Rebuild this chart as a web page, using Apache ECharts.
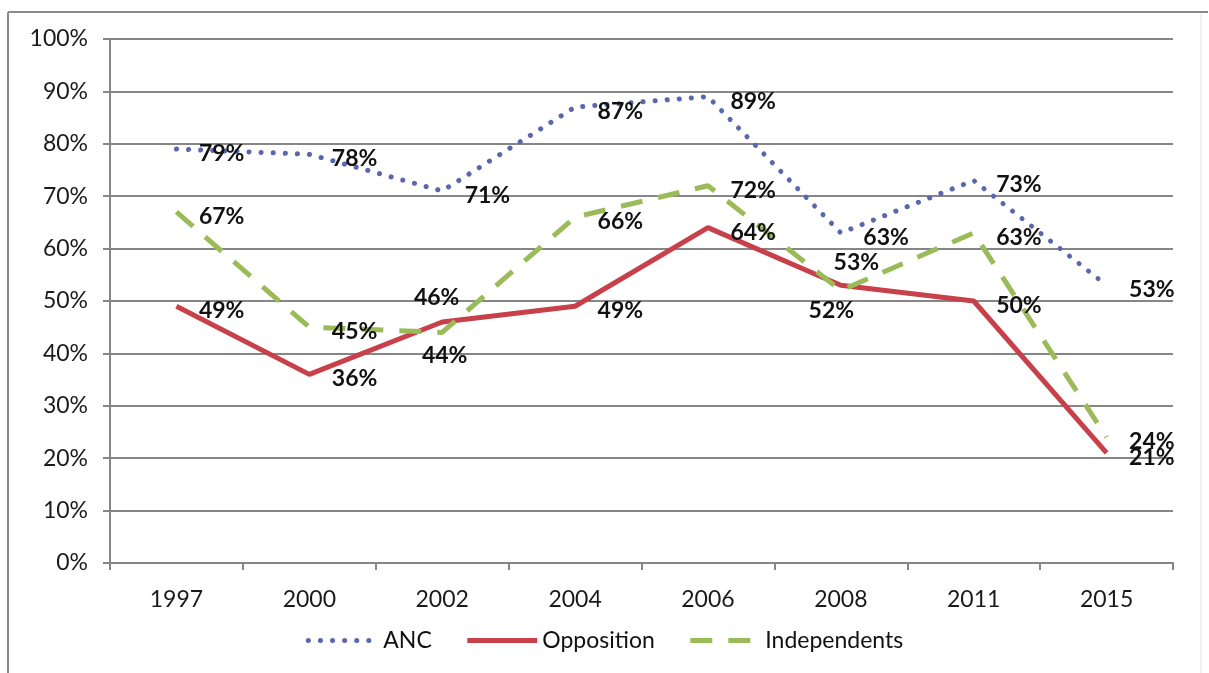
<!DOCTYPE html>
<html>
<head>
<meta charset="utf-8">
<script src="https://cdn.jsdelivr.net/npm/echarts@6/dist/echarts.min.js"></script>
<style>
  html, body { margin: 0; padding: 0; background: #fff; }
  #chart { width: 1209px; height: 673px; }
</style>
</head>
<body>
<div id="chart"></div>
<script>
// Election years on the category axis
const years = ['1997', '2000', '2002', '2004', '2006', '2008', '2011', '2015'];

// Shares in percent
const ancValues = [79, 78, 71, 87, 89, 63, 73, 53];
const oppositionValues = [49, 36, 46, 49, 64, 53, 50, 21];
const independentValues = [67, 45, 44, 66, 72, 52, 63, 24];

// Y axis range and step (percent)
const yMin = 0, yMax = 100, yStep = 10;

const FONT = 'Lato, "Open Sans", sans-serif';

// Label placement relative to the point: by default just right of it,
// a few are moved above or below to keep them clear of the other lines
const labelRight = { position: [23, 5], align: 'left', verticalAlign: 'middle' };
const placements = {
  Opposition: {
    2: { position: [-5, -24], align: 'center', verticalAlign: 'middle' },
    5: { position: [16, -22], align: 'center', verticalAlign: 'middle' }
  },
  Independents: {
    2: { position: [3, 24], align: 'center', verticalAlign: 'middle' },
    5: { position: [-9, 21], align: 'center', verticalAlign: 'middle' }
  }
};

function buildData(name, values) {
  return values.map((v, i) => {
    const p = (placements[name] && placements[name][i]) || null;
    return p ? { value: v, label: Object.assign({}, p) } : v;
  });
}

function lineSeries(name, values, color, lineStyle) {
  return {
    name: name,
    type: 'line',
    data: buildData(name, values),
    symbol: 'circle',
    symbolSize: 1,
    showSymbol: true,
    itemStyle: { color: 'rgba(0,0,0,0)', borderWidth: 0 },
    color: color,
    lineStyle: Object.assign({ color: color }, lineStyle),
    label: Object.assign({
      show: true,
      formatter: p => p.value + '%',
      color: '#111',
      fontWeight: 'bold',
      fontSize: 23,
      fontFamily: FONT
    }, labelRight),
    labelLayout: { hideOverlap: false },
    emphasis: { disabled: true },
    animation: false
  };
}

const chart = echarts.init(document.getElementById('chart'));

chart.setOption({
  backgroundColor: '#fff',
  animation: false,
  graphic: [
    { type: 'line', shape: { x1: 8, y1: 12, x2: 1208, y2: 12 }, style: { stroke: '#8a8a8a', lineWidth: 2 } },
    { type: 'line', shape: { x1: 8, y1: 12, x2: 8, y2: 673 }, style: { stroke: '#8a8a8a', lineWidth: 2 } },
    { type: 'line', shape: { x1: 1201, y1: 14, x2: 1201, y2: 673 }, style: { stroke: '#e2e2e2', lineWidth: 1 } }
  ],
  grid: { left: 110, right: 36, top: 39, bottom: 110, containLabel: false },
  legend: {
    bottom: 16,
    left: 'center',
    itemWidth: 70,
    itemHeight: 14,
    itemGap: 33,
    itemStyle: { opacity: 0 },
    lineStyle: { width: 5 },
    textStyle: { fontSize: 23, color: '#111', fontFamily: FONT },
    data: ['ANC', 'Opposition', 'Independents']
  },
  xAxis: {
    type: 'category',
    data: years,
    boundaryGap: true,
    axisLine: { lineStyle: { color: '#868686', width: 2 } },
    axisTick: { show: true, length: 7, lineStyle: { color: '#868686', width: 2 } },
    axisLabel: { fontSize: 23, color: '#1a1a1a', margin: 25, fontFamily: FONT },
    splitLine: { show: false }
  },
  yAxis: {
    type: 'value',
    min: yMin,
    max: yMax,
    interval: yStep,
    axisLine: { show: true, lineStyle: { color: '#868686', width: 2 } },
    axisTick: { show: true, length: 7, lineStyle: { color: '#868686', width: 2 } },
    axisLabel: { fontSize: 23, color: '#1a1a1a', margin: 22, formatter: '{value}%', fontFamily: FONT },
    splitLine: { show: true, lineStyle: { color: '#868686', width: 2 } }
  },
  series: [
    lineSeries('ANC', ancValues, '#5a67ad', { width: 5, type: [0.1, 12], cap: 'round' }),
    lineSeries('Opposition', oppositionValues, '#c8404a', { width: 5, type: 'solid' }),
    lineSeries('Independents', independentValues, '#9bbb59', { width: 5, type: [22, 16], cap: 'butt' })
  ]
});
</script>
</body>
</html>
